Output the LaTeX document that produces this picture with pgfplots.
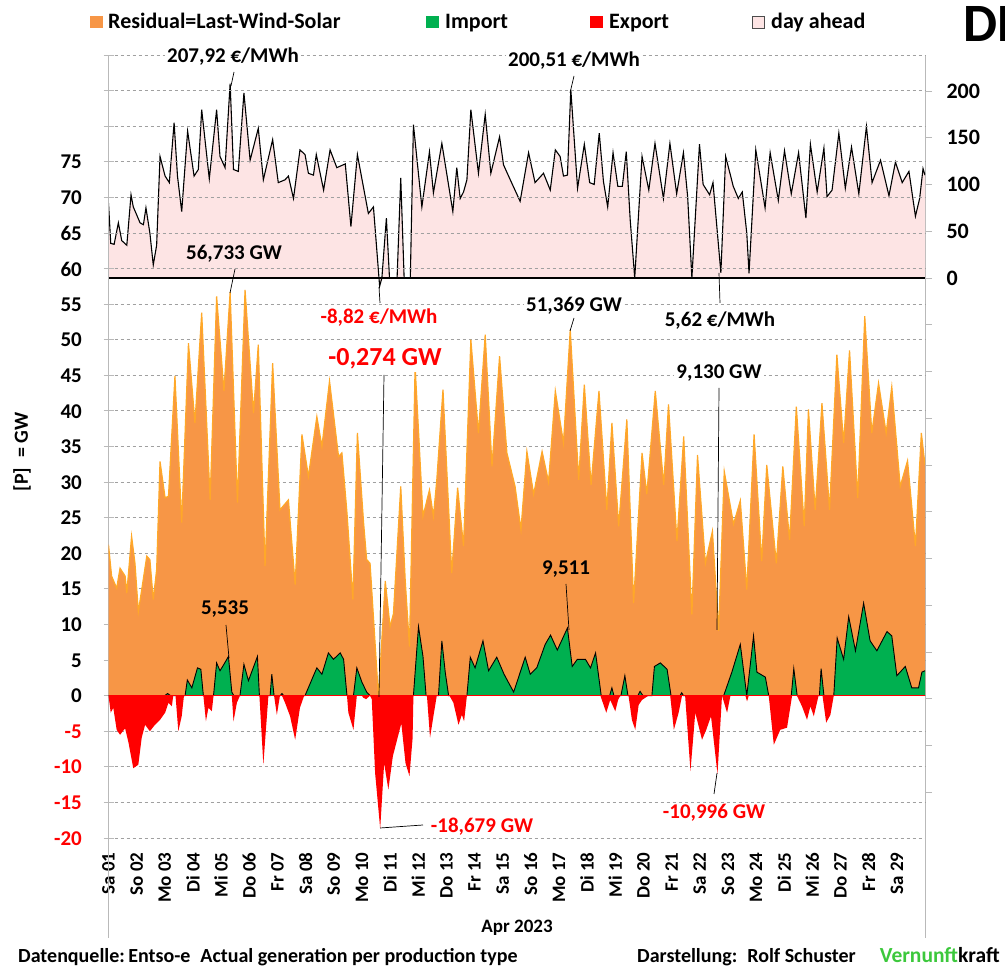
\documentclass[border=0pt]{standalone}
\usepackage{pgfplots}
\usepackage{pgfplotstable}
\pgfplotsset{compat=1.18}
\usepackage{fontspec}
\setmainfont{Carlito}

\definecolor{resid}{RGB}{247,150,70}
\definecolor{residedge}{RGB}{255,168,40}
\definecolor{imp}{RGB}{0,176,80}
\definecolor{dayahead}{RGB}{253,228,228}
\definecolor{gridgray}{RGB}{160,160,160}
\definecolor{axgray}{RGB}{185,185,185}
\definecolor{vkgreen}{RGB}{60,200,60}

\newcommand\fs[1]{\fontsize{#1}{#1}\selectfont\bfseries}

% residual load = load - wind - solar [GW], x in days from Apr 1
\pgfplotstableread{
x y
0 21.2
0.11 16.8
0.29 15.1
0.41 17.9
0.59 16.8
0.65 14.4
0.82 22.4
0.94 18.6
1.06 11.8
1.18 14.9
1.36 19.6
1.47 19.1
1.59 13.5
1.71 17.7
1.83 32.9
2.01 27.8
2.13 28.0
2.36 44.9
2.60 24.3
2.84 49.5
3.07 38.3
3.31 53.8
3.61 27.5
3.84 56.1
4.10 42.8
4.32 56.7
4.58 27.1
4.85 57.0
5.15 39.7
5.32 49.3
5.56 18.2
5.83 46.7
6.09 26.1
6.39 27.5
6.63 15.6
6.87 36.7
7.10 30.8
7.40 39.2
7.58 35.0
7.85 44.2
8.17 33.6
8.29 34.1
8.47 25.7
8.68 13.5
8.84 36.9
9.06 24.3
9.17 19.1
9.29 18.6
9.59 -0.27
9.83 16.1
10.00 9.7
10.12 11.5
10.38 29.4
10.54 16.1
10.69 6.9
10.89 46.3
11.17 25.2
11.40 28.9
11.54 25.2
11.66 30.3
11.88 43.0
12.19 17.2
12.40 29.2
12.61 21.0
12.87 50.0
13.14 36.9
13.38 50.7
13.62 32.2
13.89 47.7
14.15 34.1
14.44 29.4
14.65 23.3
14.86 34.3
15.10 28.3
15.40 34.3
15.63 30.0
15.87 42.8
16.16 35.5
16.40 51.4
16.70 30.3
16.90 43.7
17.14 29.6
17.42 42.8
17.70 26.1
17.88 38.3
18.12 23.8
18.41 38.8
18.65 13.0
18.95 34.1
19.12 28.3
19.42 42.8
19.72 29.6
19.89 40.9
20.19 21.7
20.43 36.4
20.72 11.4
20.92 33.8
21.20 18.6
21.45 23.1
21.67 9.1
21.87 31.5
22.20 24.1
22.44 27.4
22.67 14.9
22.93 36.7
23.20 18.9
23.38 32.4
23.72 18.6
23.95 32.2
24.19 21.9
24.43 40.6
24.71 23.8
24.86 40.2
25.10 26.1
25.34 41.1
25.61 26.1
25.87 47.9
26.11 35.5
26.32 48.5
26.61 27.8
26.86 53.3
27.11 36.9
27.35 43.9
27.62 36.9
27.82 43.4
28.12 29.4
28.38 33.0
28.66 21.0
28.87 36.9
29 32.4
}\residtab

% net import [GW]
\pgfplotstableread{
x y
0 0
2.00 0
2.10 0.3
2.20 0
2.72 0
2.80 2.2
2.96 1.1
3.16 3.9
3.28 3.7
3.37 0
3.73 0
3.84 4.6
3.96 3.5
4.10 4.4
4.26 5.5
4.38 0.5
4.45 0
4.67 0
4.81 4.4
4.97 2.1
5.29 5.5
5.36 0
5.74 0
5.80 3.0
5.88 0
6.10 0
6.16 0.3
6.22 0
6.98 0
7.28 2.8
7.40 3.9
7.58 3.0
7.81 6.0
7.99 5.1
8.23 6.0
8.35 5.1
8.47 0
8.70 0
8.82 3.9
9.00 1.9
9.17 0.5
9.29 0
10.83 0
11.01 9.7
11.17 5.5
11.28 0
11.72 0
11.84 7.7
11.96 3.3
12.08 0
12.73 0
12.85 5.4
13.02 3.9
13.30 7.7
13.50 3.5
13.79 5.4
14.05 3.0
14.39 0.5
14.80 5.4
14.98 3.0
15.21 3.9
15.51 7.2
15.70 8.5
15.94 6.4
16.30 9.5
16.47 4.1
16.65 5.1
16.94 5.1
17.12 3.9
17.30 6.0
17.50 0
17.80 0
17.88 1.1
17.95 0
18.20 0
18.34 2.8
18.45 0
18.80 0
18.88 0.6
18.98 0
19.30 0
19.39 4.1
19.60 4.6
19.84 3.7
19.98 0
20.30 0
20.36 0.4
20.42 0
21.85 0
22.14 3.3
22.44 7.2
22.67 0
22.91 8.4
23.03 3.3
23.33 2.6
23.45 0
24.25 0
24.34 3.8
24.46 0
25.25 0
25.31 3.8
25.41 0
25.76 0
25.88 8.1
26.11 5.1
26.29 11.1
26.53 6.3
26.82 13.0
27.05 7.7
27.29 6.3
27.65 9.0
27.82 8.4
28.00 2.8
28.30 4.1
28.53 1.1
28.77 1.1
28.89 3.3
29 3.5
}\imptab

% net export [GW]
\pgfplotstableread{
x y
0 0
0.08 -2.4
0.17 -1.7
0.29 -4.8
0.41 -5.5
0.59 -4.6
0.71 -6.6
0.88 -10.2
1.06 -9.7
1.18 -5.9
1.30 -4.1
1.47 -5.0
1.65 -4.1
1.83 -3.4
2.01 -2.4
2.13 -1.0
2.25 -1.5
2.30 0
2.38 0
2.48 -5.0
2.60 -2.9
2.68 0
3.37 0
3.46 -3.6
3.55 -1.7
3.67 -2.2
3.73 0
4.38 0
4.44 -3.6
4.56 -1.0
4.67 0
5.36 0
5.50 -9.7
5.68 0
5.88 0
5.98 -2.7
6.09 0
6.16 0
6.27 -1.0
6.45 -2.9
6.63 -6.2
6.80 -1.7
6.95 0
8.47 0
8.52 -2.4
8.70 -4.8
8.82 0
9.00 0
9.05 -0.3
9.15 -0.5
9.29 0
9.35 -0.5
9.47 -10.9
9.65 -18.7
9.79 -9.5
9.94 -13.2
10.10 -8.5
10.40 -3.9
10.55 -9.5
10.69 -11.3
10.80 -6.0
10.83 0
11.31 0
11.42 -5.9
11.54 -2.9
11.66 0
12.11 0
12.25 -1.0
12.43 -4.1
12.55 -2.7
12.63 -3.6
12.73 0
17.47 0
17.68 -2.4
17.82 -0.6
18.00 -2.2
18.10 -0.6
18.18 0
18.47 0
18.59 -3.4
18.71 -4.8
18.83 -1.3
18.95 -0.6
19.18 0
19.95 0
20.08 -4.8
20.25 -2.4
20.37 0
20.48 0
20.67 -10.6
20.84 -2.4
21.08 -6.2
21.23 -4.8
21.40 -2.9
21.63 -11.0
21.79 0
21.97 -2.4
22.09 0
22.62 0
22.68 -0.8
22.74 0
23.45 0
23.63 -6.9
23.86 -4.8
24.10 -4.5
24.28 0
24.45 0
24.63 -1.5
24.81 -3.4
24.93 -1.5
25.05 -2.9
25.22 0
25.36 0
25.49 -3.8
25.64 -2.7
25.76 0
29 0
}\exptab

% day ahead price [EUR/MWh]
\pgfplotstableread{
x y
0 80
0.08 37
0.20 36
0.35 59
0.47 40
0.65 35
0.80 89
0.88 76
0.98 69
1.12 59
1.24 57
1.33 75
1.47 48
1.59 14
1.71 35
1.83 130
2.01 109
2.16 102
2.33 166
2.45 109
2.60 71
2.81 157
3.04 109
3.19 116
3.31 180
3.58 106
3.84 180
3.96 130
4.14 118
4.32 207.9
4.44 116
4.61 114
4.81 198
5.03 126
5.32 160
5.50 105
5.83 148
6.03 102
6.27 105
6.39 109
6.57 85
6.80 137
6.98 132
7.10 112
7.28 110
7.38 132
7.64 94
7.87 137
8.11 118
8.41 122
8.61 55
8.84 132
9.05 98
9.23 69
9.41 76
9.63 -8.8
9.71 0
9.87 64
9.98 0
10.25 0
10.38 107
10.50 0
10.72 0
10.83 164
11.13 76
11.40 135
11.54 91
11.84 144
12.23 71
12.37 118
12.49 85
12.61 92
12.73 105
12.87 180
13.14 112
13.38 175
13.58 112
13.89 151
14.03 121
14.27 105
14.62 82
14.92 134
15.15 102
15.45 112
15.69 94
15.87 137
16.04 130
16.16 109
16.30 110
16.42 201.5
16.66 96
16.90 143
17.09 102
17.25 100
17.43 155
17.58 103
17.73 76
17.92 134
18.09 98
18.25 98
18.39 135
18.53 62
18.69 0
18.95 130
19.19 94
19.41 144
19.71 85
19.94 144
20.18 90
20.42 134
20.57 87
20.72 0
20.99 143
21.12 100
21.35 89
21.47 102
21.75 5.6
21.92 130
22.19 98
22.37 85
22.51 92
22.67 48
22.75 5
22.99 137
23.32 75
23.50 134
23.79 83
24.01 136
24.25 90
24.51 134
24.77 64
24.93 143
25.17 92
25.41 139
25.52 87
25.70 94
25.94 155
26.17 96
26.39 140
26.65 90
26.92 162
27.12 102
27.42 126
27.72 88
27.95 124
28.19 102
28.43 114
28.66 66
28.81 85
28.93 117
29 110
}\pricetab

\begin{document}
\begin{tikzpicture}
%% price axis (right scale), drawn first so the GW grid lies over the pink area
\begin{axis}[
  at={(108.5pt,131pt)}, anchor=south west,
  scale only axis, width=816.5pt, height=783pt,
  xmin=0, xmax=29, ymin=-599, ymax=238.5,
  axis x line=none, axis y line*=right,
  y axis line style={draw=axgray, line width=0.8pt},
  ytick={-550,-500,...,200},
  yticklabels={,,,,,,,,,,,0,50,100,150,200},
  tick align=outside, major tick length=7pt,
  every tick/.style={draw=axgray, line width=0.8pt},
  yticklabel style={font=\fs{22}, anchor=west, xshift=11pt},
]
\addplot[fill=dayahead, draw=none] table {\pricetab} \closedcycle;
\addplot[black, line width=1.1pt] table {\pricetab};
\draw[black, line width=1.1pt] (axis cs:0,0) -- (axis cs:29,0);
\end{axis}

%% GW axis (left scale); its tick numbers are set below
\begin{axis}[
  at={(108.5pt,131pt)}, anchor=south west,
  scale only axis, width=816.5pt, height=783pt,
  xmin=0, xmax=29, ymin=-20, ymax=90,
  axis x line*=bottom, x axis line style={draw=none},
  axis y line*=left, y axis line style={draw=axgray, line width=0.8pt},
  xtick={0,1,...,28},
  xticklabels={Sa 01,So 02,Mo 03,Di 04,Mi 05,Do 06,Fr 07,Sa 08,So 09,Mo 10,
    Di 11,Mi 12,Do 13,Fr 14,Sa 15,So 16,Mo 17,Di 18,Mi 19,Do 20,Fr 21,Sa 22,
    So 23,Mo 24,Di 25,Mi 26,Do 27,Fr 28,Sa 29},
  xticklabel style={font=\fs{19}, rotate=90, anchor=east},
  xticklabel shift=6pt,
  x tick style={draw=none},
  ytick={-20,-15,...,90},
  yticklabel={\relax},
  tick align=center, major tick length=10pt,
  y tick style={draw=axgray, line width=0.8pt},
  ymajorgrids,
  grid style={draw=gridgray, dash pattern=on 3.5pt off 2.5pt, line width=0.8pt},
]
\addplot[fill=resid, draw=none] table {\residtab} \closedcycle;
\addplot[residedge, line width=1.2pt] table {\residtab};
\addplot[fill=imp, draw=none] table {\imptab} \closedcycle;
\addplot[black, line width=0.9pt] table {\imptab};
\addplot[fill=red, draw=none] table {\exptab} \closedcycle;
\draw[red, line width=1.2pt] (axis cs:0,0) -- (axis cs:29,0);
\end{axis}

%% annotations in pixel coordinates of the reference (y downwards)
\begin{scope}[x=1pt, y=-1pt, shift={(0pt,969pt)}]
  \draw[axgray, line width=0.8pt] (108.5,838) -- (108.5,938);
  \draw[axgray, line width=0.8pt] (925,838) -- (925,938);

  % left tick numbers (GW)
  \foreach \v in {-20,-15,-10,-5}
    \node[anchor=east, inner sep=0pt, text=red, font=\fs{21}] at (82,{696-7.118*\v}) {\v};
  \foreach \v in {0,5,...,75}
    \node[anchor=east, inner sep=0pt, font=\fs{21}] at (82,{696-7.118*\v}) {\v};

  % legend
  \fill[resid] (90,16) rectangle (103,28);
  \node[anchor=base west, inner sep=0pt, font=\fs{22}] at (108,28.3) {Residual=Last-Wind-Solar};
  \fill[imp] (426,16) rectangle (439,28);
  \node[anchor=base west, inner sep=0pt, font=\fs{22}] at (445,28.3) {Import};
  \fill[red] (590,16) rectangle (603,28);
  \node[anchor=base west, inner sep=0pt, font=\fs{22}] at (609,28.3) {Export};
  \filldraw[fill=dayahead, draw=black!70, line width=0.8pt] (752,16) rectangle (764,28);
  \node[anchor=base west, inner sep=0pt, font=\fs{22}] at (771,28.3) {day ahead};
  \node[anchor=base west, inner sep=0pt, font=\fs{54}] at (963,42) {DE};

  % callouts
  \draw[black, line width=0.7pt] (231,86) -- (234,72);
  \node[anchor=base, fill=white, inner sep=2pt, font=\fs{21}] at (233,63) {207,92 €/MWh};
  \draw[black, line width=0.7pt] (570,93) -- (574,76);
  \node[anchor=base, fill=white, inner sep=2pt, font=\fs{21}] at (574,67) {200,51 €/MWh};
  \draw[black, line width=0.7pt] (230,293) -- (235,269);
  \node[anchor=base, inner sep=0pt, font=\fs{21}] at (234,260) {56,733 GW};
  \draw[black, line width=0.7pt] (379,287) -- (380,303);
  \node[anchor=base, fill=white, inner sep=2pt, font=\fs{21}, text=red] at (379,324) {-8,82 €/MWh};
  \draw[black, line width=0.7pt] (384,375) -- (379,697);
  \node[anchor=base, fill=white, inner sep=2pt, font=\fs{26}, text=red] at (385,366) {-0,274 GW};
  \draw[black, line width=0.7pt] (570,331) -- (574,318);
  \node[anchor=base, fill=white, inner sep=2pt, font=\fs{21}] at (574,312) {51,369 GW};
  \draw[black, line width=0.7pt] (719,273) -- (720,303);
  \node[anchor=base, fill=white, inner sep=2pt, font=\fs{21}] at (720,327) {5,62 €/MWh};
  \draw[black, line width=0.7pt] (719,388) -- (717,630);
  \node[anchor=base, fill=white, inner sep=2pt, font=\fs{21}] at (719,379) {9,130 GW};
  \draw[black, line width=0.7pt] (226,625) -- (229,658);
  \node[anchor=base, inner sep=0pt, font=\fs{21}] at (225,615) {5,535};
  \draw[black, line width=0.7pt] (566,584) -- (569,630);
  \node[anchor=base, inner sep=0pt, font=\fs{21}] at (566,575) {9,511};
  \draw[black, line width=0.7pt] (380,828) -- (423,825);
  \node[anchor=base, inner sep=0pt, font=\fs{21}, text=red] at (482,833) {-18,679 GW};
  \draw[black, line width=0.7pt] (717,773) -- (714,794);
  \node[anchor=base, inner sep=0pt, font=\fs{21}, text=red] at (714,819) {-10,996 GW};

  % axis titles and footer
  \node[rotate=90, font=\fs{20}] at (22,452) {[P]\enspace = GW};
  \node[anchor=base, inner sep=0pt, font=\fs{19}] at (517,933) {Apr 2023};
  \node[anchor=base west, inner sep=0pt, font=\fs{20}] at (18,963)
    {Datenquelle:\,Entso-e\enspace Actual generation per production type};
  \node[anchor=base west, inner sep=0pt, font=\fs{20}] at (637,963) {Darstellung:\enspace Rolf Schuster};
  \node[anchor=base east, inner sep=0pt, font=\fs{21.5}] at (1000,963)
    {\textcolor{vkgreen}{Vernunft}kraft};
\end{scope}

\pgfresetboundingbox
\useasboundingbox (0,0) rectangle (1005pt,969pt);
\end{tikzpicture}
\end{document}
